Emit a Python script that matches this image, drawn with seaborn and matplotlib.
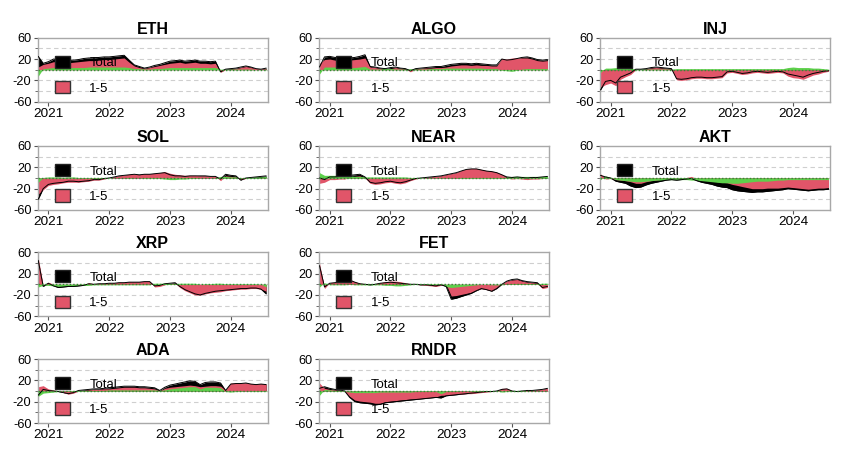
import numpy as np
import pandas as pd
import matplotlib
matplotlib.use("Agg")
import matplotlib.pyplot as plt
import matplotlib.dates as mdates
from matplotlib.patches import Patch
import seaborn as sns

# monthly readings, Nov 2020 .. Aug 2024
months = pd.date_range("2020-11-01", "2024-08-01", freq="MS")

eth_total = [25, 12, 15, 20, 19, 18, 17, 18, 19, 21, 22, 22, 23, 24, 24, 25, 26, 27, 18, 9, 6, 3, 5, 8,
             10, 13, 16, 17, 18, 16, 17, 18, 16, 16, 15, 16, -4, 1, 2, 3, 5, 7, 5, 2, 1, 3]
eth_short = [5, 10, 12, 15, 15, 14, 13, 14, 15, 16, 17, 17, 18, 19, 19, 20, 21, 22, 14, 7, 4, 2, 4, 6,
             8, 10, 12, 13, 14, 12, 13, 14, 12, 12, 11, 12, -5, 0, 1, 2, 4, 6, 4, 2, 1, 2]
eth_long = [-12, 2, 3, 4, 4, 4, 4, 4, 4, 4, 5, 5, 5, 5, 5, 5, 5, 5, 4, 2, 2, 1, 1, 2,
            2, 3, 4, 4, 4, 4, 4, 4, 4, 4, 4, 4, 1, 1, 1, 1, 1, 1, 1, 0, 0, 1]

algo_total = [5, 24, 25, 23, 22, 21, 22, 23, 25, 28, 6, 5, 3, 2, 4, 5, 3, 2, -2, 2, 3, 4, 5, 6,
              6, 8, 10, 11, 12, 12, 11, 12, 11, 10, 9, 9, 20, 18, 19, 21, 23, 24, 22, 19, 18, 19]
algo_short = [12, 19, 20, 18, 17, 17, 18, 19, 20, 22, 5, 4, 2, 0, 2, 4, 2, 1, -4, 1, 2, 3, 3, 4,
              4, 5, 7, 8, 9, 9, 8, 9, 8, 8, 7, 7, 21, 20, 22, 22, 22, 22, 20, 17, 16, 17]
algo_long = [-8, 5, 5, 5, 5, 4, 4, 4, 5, 6, 1, 1, 1, 2, 2, 1, 1, 1, 2, 1, 1, 1, 2, 2,
             2, 3, 3, 3, 3, 3, 3, 3, 3, 2, 2, 2, -1, -2, -3, -1, 1, 2, 2, 2, 2, 2]

inj_total = [-38, -22, -20, -25, -14, -10, -6, 1, 1, 2, 4, 5, 4, 3, 2, -17, -18, -17, -15, -14, -14, -15, -15, -14,
             -13, -4, -3, -5, -7, -6, -4, -3, -4, -5, -4, -3, -4, -8, -10, -12, -14, -10, -7, -5, -3, -2]
inj_short = [-33, -28, -25, -30, -18, -13, -9, 0, 0, 1, 3, 4, 3, 2, 1, -19, -20, -19, -17, -16, -16, -17, -17, -16,
             -15, -6, -5, -7, -9, -8, -6, -5, -6, -7, -6, -5, -6, -12, -15, -16, -18, -14, -10, -8, -5, -3]
inj_long = [-5, 3, 3, 4, 4, 3, 3, 1, 1, 1, 1, 1, 1, 1, 1, 2, 2, 2, 2, 2, 2, 2, 2, 2,
            2, 2, 2, 2, 2, 2, 2, 2, 2, 2, 2, 2, 2, 4, 5, 4, 4, 4, 3, 3, 2, 1]

sol_total = [-40, -20, -12, -10, -9, -8, -6, -6, -7, -6, -5, -3, -3, -1, 0, 2, 4, 5, 6, 7, 6, 7, 7, 8,
             9, 10, 6, 4, 4, 3, 4, 4, 4, 4, 3, 3, -2, 7, 5, 4, -4, 0, 1, 2, 3, 4]
sol_short = [-30, -22, -14, -12, -11, -9, -8, -8, -8, -7, -6, -4, -4, -2, 0, 2, 4, 5, 7, 7, 6, 8, 8, 9,
             10, 12, 9, 7, 6, 5, 5, 5, 4, 4, 3, 3, -5, 4, 3, 2, -3, -1, 0, 0, 1, 1]
sol_long = [-8, 1, 2, 2, 2, 1, 2, 2, 1, 1, 1, 1, 1, 1, 0, 0, 0, 0, -1, 0, 0, -1, -1, -1,
            -1, -2, -3, -3, -2, -2, -1, -1, 0, 0, 0, 0, 3, 3, 2, 2, -1, 1, 1, 2, 2, 3]

near_total = [0, -3, 2, 2, 3, 3, 5, 6, 7, 2, -8, -10, -9, -7, -6, -8, -9, -7, -4, -1, 0, 1, 2, 3,
              4, 6, 8, 10, 13, 16, 17, 17, 15, 13, 12, 10, 6, 2, 1, 2, 1, 0, 1, 1, 2, 3]
near_short = [-10, -8, -3, -3, -2, -2, 1, 3, 4, 0, -10, -12, -11, -9, -8, -10, -11, -9, -5, -2, 0, 1, 2, 3,
              4, 6, 8, 10, 14, 17, 18, 18, 16, 14, 13, 11, 7, 0, -2, -1, -2, -3, -2, -2, -1, 0]
near_long = [10, 5, 5, 5, 5, 5, 4, 3, 3, 2, 2, 2, 2, 2, 2, 2, 2, 2, 1, 1, 0, 0, 0, 0,
             0, 0, 0, 0, -1, -1, -1, -1, -1, -1, -1, -1, -1, 2, 3, 3, 3, 3, 3, 3, 3, 3]

akt_total = [5, 2, 0, -6, -8, -10, -15, -18, -17, -13, -10, -8, -6, -4, -3, -4, -3, -2, -1, -5, -8, -10, -12, -15,
             -17, -18, -22, -24, -25, -26, -27, -26, -26, -25, -24, -23, -22, -20, -21, -22, -23, -24, -23, -22, -22, -21]
akt_short = [8, -2, -1, -3, -4, -5, -7, -10, -10, -7, -5, -4, -2, -1, 0, -1, 0, 1, 3, -1, -3, -4, -5, -7,
             -8, -9, -12, -14, -16, -18, -20, -20, -20, -19, -19, -19, -18, -17, -18, -19, -20, -21, -20, -19, -19, -18]
akt_long = [-3, 4, 1, -3, -4, -5, -6, -7, -7, -6, -5, -4, -4, -3, -3, -3, -3, -3, -4, -4, -5, -6, -7, -8,
            -9, -9, -10, -10, -9, -8, -7, -6, -6, -6, -5, -4, -4, -3, -3, -3, -3, -3, -3, -3, -3, -3]

xrp_total = [45, -4, 2, -3, -6, -5, -4, -4, -3, -2, 1, 0, 1, 1, 2, 2, 3, 3, 4, 4, 4, 5, 5, -3,
             -2, 1, 2, 3, -4, -10, -14, -18, -20, -17, -15, -13, -12, -11, -10, -9, -8, -8, -7, -7, -9, -18]
xrp_short = [50, -2, 4, 0, -2, -1, -1, -1, -1, 0, 3, 1, 2, 2, 3, 3, 4, 4, 5, 5, 5, 6, 6, -5,
             -4, -1, 1, 2, -6, -12, -16, -20, -20, -18, -16, -15, -14, -12, -11, -10, -9, -9, -8, -8, -9, -13]
xrp_long = [-5, -2, -2, -3, -4, -4, -3, -3, -2, -2, -2, -1, -1, -1, -1, -1, -1, -1, -1, -1, -1, -1, -1, 2,
            2, 2, 1, 1, 2, 2, 2, 2, 0, 1, 1, 2, 2, 1, 1, 1, 1, 1, 1, 1, 0, -5]

fet_total = [35, -5, 2, 3, 4, 6, 8, 4, 1, 0, -1, 0, 2, 3, 4, 3, 2, 1, 0, 0, -1, -1, -2, -3,
             -1, -4, -28, -26, -23, -20, -17, -12, -8, -10, -13, -8, 0, 6, 9, 10, 7, 5, 4, 3, -6, -4]
fet_short = [40, -8, 3, 4, 5, 7, 8, 5, 2, 1, 0, 1, 3, 5, 6, 6, 5, 3, 1, 0, -1, -2, -3, -4,
             -2, 0, -22, -21, -19, -17, -15, -11, -8, -10, -12, -7, 1, 6, 8, 9, 6, 4, 3, 2, -8, -6]
fet_long = [-5, 3, -1, -1, -1, -1, 0, -1, -1, -1, -1, -1, -1, -2, -2, -3, -3, -2, -1, 0, 0, 1, 1, 1,
            1, -4, -6, -5, -4, -3, -2, -1, 0, 0, -1, -1, -1, 0, 1, 1, 1, 1, 1, 1, 2, 2]

ada_total = [-8, 3, 1, 0, -1, -3, -5, -3, 1, 2, 3, 4, 4, 5, 6, 7, 8, 9, 9, 9, 8, 8, 7, 6,
             1, 7, 11, 13, 15, 17, 19, 18, 12, 16, 17, 17, 15, 1, 13, 14, 14, 15, 13, 12, 13, 12]
ada_short = [8, 10, 4, 2, 0, -3, -6, -4, 0, 1, 2, 3, 3, 4, 4, 5, 6, 7, 7, 7, 6, 6, 5, 4,
             0, 5, 7, 8, 9, 10, 11, 10, 8, 9, 10, 10, 9, 2, 15, 15, 15, 15, 14, 13, 14, 13]
ada_long = [-10, -4, -3, -2, -1, 0, 1, 1, 1, 1, 1, 1, 1, 1, 2, 2, 2, 2, 2, 2, 2, 2, 2, 2,
            1, 2, 4, 5, 6, 7, 8, 8, 4, 7, 7, 7, 6, -1, -2, -1, -1, 0, -1, -1, -1, -1]

rndr_total = [5, 8, 5, 3, 2, 0, -12, -20, -22, -23, -24, -26, -25, -22, -21, -20, -19, -18, -17, -16, -15, -14, -13, -12,
              -13, -9, -8, -7, -6, -5, -4, -3, -2, -1, -1, 0, 3, 4, 0, -1, 0, 1, 1, 2, 3, 5]
rndr_short = [15, 5, 3, 2, 1, 0, -10, -17, -19, -20, -21, -23, -23, -20, -19, -18, -17, -16, -15, -15, -14, -13, -12, -11,
              -8, -8, -7, -6, -6, -5, -5, -4, -3, -2, -1, 0, 5, 5, 1, 0, 1, 1, 1, 2, 3, 5]
rndr_long = [-8, 3, 2, 1, 1, 0, -2, -3, -3, -3, -3, -3, -2, -2, -2, -2, -2, -2, -2, -1, -1, -1, -1, -1,
             -5, -1, -1, -1, 0, 0, 1, 1, 1, 1, 0, 0, -2, -1, -1, -1, -1, 0, 0, 0, 0, 0]

panels = [
    ("ETH", eth_total, eth_short, eth_long),
    ("ALGO", algo_total, algo_short, algo_long),
    ("INJ", inj_total, inj_short, inj_long),
    ("SOL", sol_total, sol_short, sol_long),
    ("NEAR", near_total, near_short, near_long),
    ("AKT", akt_total, akt_short, akt_long),
    ("XRP", xrp_total, xrp_short, xrp_long),
    ("FET", fet_total, fet_short, fet_long),
    ("ADA", ada_total, ada_short, ada_long),
    ("RNDR", rndr_total, rndr_short, rndr_long),
]

PINK = "#E15569"
GREEN = "#5ED04B"

sns.set_theme(style="white")
plt.rcParams["font.family"] = ["Liberation Sans", "DejaVu Sans"]
plt.rcParams["axes.unicode_minus"] = False
plt.rcParams["text.color"] = "black"
plt.rcParams["axes.labelcolor"] = "black"
plt.rcParams["xtick.color"] = "black"
plt.rcParams["ytick.color"] = "black"

W, H = 855, 459
fig = plt.figure(figsize=(W / 100, H / 100), dpi=100)

col_left = [37.7, 319, 600]
row_top = [37.7, 146, 252.3, 359]
ax_w, ax_h = 230, 64
grid_slots = [(0, 0), (0, 1), (0, 2), (1, 0), (1, 1), (1, 2), (2, 0), (2, 1), (3, 0), (3, 1)]

for (name, total, short, long_), (r, c) in zip(panels, grid_slots):
    l, t = col_left[c], row_top[r]
    ax = fig.add_axes([l / W, 1 - (t + ax_h) / H, ax_w / W, ax_h / H])
    df = pd.DataFrame({"date": months, "total": total, "short": short, "long": long_})

    for g in [40, 20, -20, -40]:
        ax.axhline(g, color="#cfcfcf", lw=0.8, ls=(0, (4, 3)), zorder=0)

    ax.fill_between(df["date"], 0, df["total"], color="black", lw=0, zorder=1)
    ax.fill_between(df["date"], 0, df["short"], color=PINK, lw=0, zorder=2)
    ax.fill_between(df["date"], 0, df["long"], color=GREEN, lw=0, zorder=3)
    sns.lineplot(data=df, x="date", y="total", color="black", lw=0.7, ax=ax, zorder=4)
    ax.axhline(0, color="#2f8f2f", lw=1.0, ls=(0, (1, 1.5)), zorder=5)

    ax.set_xlim(pd.Timestamp("2020-10-29"), pd.Timestamp("2024-08-10"))
    ax.set_ylim(-60, 60)
    ax.set_yticks([60, 20, -20, -60])
    ax.set_yticks([40, 0, -40], minor=True)
    ax.xaxis.set_major_locator(mdates.YearLocator())
    ax.xaxis.set_major_formatter(mdates.DateFormatter("%Y"))
    ax.tick_params(axis="x", labelsize=9.7, length=3, width=0.8, pad=1.5, color="#555555",
                   labelcolor="black", bottom=True)
    ax.tick_params(axis="y", labelsize=9.2, length=3, width=0.8, pad=1.5, color="#555555",
                   labelcolor="black", left=True)
    ax.tick_params(axis="y", which="minor", length=2, width=0.6, color="#555555", left=True)
    ax.set_xlabel("")
    ax.set_ylabel("")
    for s in ax.spines.values():
        s.set_color("#a8a8a8")
        s.set_linewidth(1.0)
    ax.set_title(name, fontsize=11.5, fontweight="bold", pad=3, color="black")

    handles = [Patch(facecolor="black", edgecolor="#222222", label="Total"),
               Patch(facecolor=PINK, edgecolor="#333333", label="1-5")]
    leg = ax.legend(handles=handles, loc="upper left", bbox_to_anchor=(0.075, 0.72), frameon=False,
                    fontsize=9.5, handlelength=1.15, handleheight=1.05, handletextpad=1.45,
                    labelspacing=0.9, borderpad=0, borderaxespad=0)
    for txt in leg.get_texts():
        txt.set_color("black")

fig.savefig("out.png", dpi=100)
